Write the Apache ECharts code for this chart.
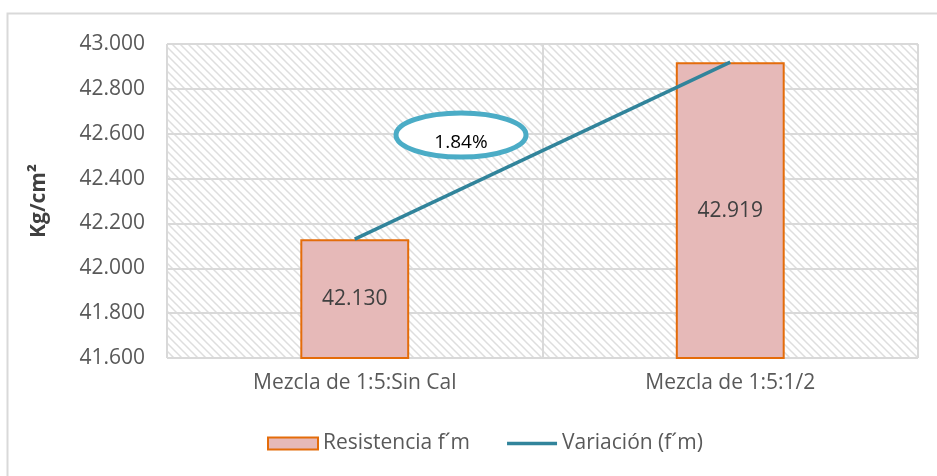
<!DOCTYPE html>
<html>
<head>
<meta charset="utf-8">
<script src="https://cdn.jsdelivr.net/npm/echarts@6/dist/echarts.min.js"></script>
<style>
html, body { margin: 0; padding: 0; background: #fff; }
#chart { width: 937px; height: 476px; }
</style>
</head>
<body>
<div id="chart"></div>
<script>
// datos del grafico
var categorias = ['Mezcla de 1:5:Sin Cal', 'Mezcla de 1:5:1/2'];
var resistencia = [42.130, 42.919];
var variacion = [42.130, 42.919];
var variacionTexto = '1.84%';
var ejeY = { min: 41.6, max: 43.0, interval: 0.2 };

// trama diagonal del fondo
function crearTrama() {
	var c = document.createElement('canvas');
	c.width = 8;
	c.height = 8;
	var ctx = c.getContext('2d');
	ctx.fillStyle = '#ffffff';
	ctx.fillRect(0, 0, 8, 8);
	ctx.strokeStyle = '#dedede';
	ctx.lineWidth = 1.5;
	ctx.beginPath();
	ctx.moveTo(-2, -2); ctx.lineTo(10, 10);
	ctx.moveTo(-2, 6); ctx.lineTo(2, 10);
	ctx.moveTo(6, -2); ctx.lineTo(10, 2);
	ctx.stroke();
	return c;
}

var fuente = 'Open Sans';
var myChart = echarts.init(document.getElementById('chart'));

var option = {
	animation: false,
	backgroundColor: '#ffffff',
	textStyle: { fontFamily: fuente },
	grid: {
		left: 167,
		right: 19,
		top: 44,
		bottom: 118,
		show: true,
		borderWidth: 0,
		backgroundColor: { image: crearTrama(), repeat: 'repeat' }
	},
	legend: {
		bottom: 17,
		left: 262,
		itemWidth: 50,
		itemHeight: 12,
		itemGap: 37,
		symbolKeepAspect: true,
		textStyle: { color: '#595959', fontSize: 21, fontFamily: fuente },
		data: [
			{ name: 'Resistencia f´m', icon: 'rect' },
			{ name: 'Variación (f´m)', icon: 'path://M0,0 H100 V7 H0 Z' }
		]
	},
	xAxis: {
		type: 'category',
		data: categorias,
		axisLine: { show: false },
		axisTick: { show: false },
		axisLabel: { color: '#595959', fontSize: 21, margin: 15, fontFamily: fuente },
		splitLine: { show: true, lineStyle: { color: '#d9d9d9', width: 2 } }
	},
	yAxis: {
		type: 'value',
		min: ejeY.min,
		max: ejeY.max,
		interval: ejeY.interval,
		name: 'Kg/cm²',
		nameLocation: 'middle',
		nameGap: 117,
		nameTextStyle: { color: '#404040', fontSize: 21, fontWeight: 'bold', fontFamily: fuente },
		axisLine: { show: false },
		axisTick: { show: false },
		axisLabel: {
			color: '#595959',
			fontSize: 21,
			margin: 22,
			fontFamily: fuente,
			formatter: function (v) { return v.toFixed(3); }
		},
		splitLine: { lineStyle: { color: '#d9d9d9', width: 2 } }
	},
	series: [
		{
			name: 'Resistencia f´m',
			type: 'bar',
			data: resistencia,
			barWidth: '29%',
			itemStyle: { color: '#E6B9B8', borderColor: '#E46C0A', borderWidth: 2 },
			label: {
				show: true,
				position: 'inside',
				color: '#404040',
				fontSize: 21,
				fontFamily: fuente,
				formatter: function (p) { return p.value.toFixed(3); }
			}
		},
		{
			name: 'Variación (f´m)',
			type: 'line',
			data: variacion,
			symbol: 'none',
			lineStyle: { color: '#31849B', width: 3.5 },
			itemStyle: { color: '#31849B' }
		}
	],
	graphic: [
		{
			type: 'rect',
			silent: true,
			shape: { x: 7.5, y: 13.5, width: 1000, height: 1000 },
			style: { fill: 'none', stroke: '#d9d9d9', lineWidth: 2 }
		},
		{
			type: 'ellipse',
			shape: { cx: 461, cy: 135, rx: 65, ry: 22 },
			style: { fill: '#ffffff', stroke: '#4BACC6', lineWidth: 5 },
			z: 100
		},
		{
			type: 'text',
			x: 461,
			y: 143,
			style: {
				text: variacionTexto,
				fill: '#000000',
				fontSize: 19,
				fontFamily: fuente,
				align: 'center',
				verticalAlign: 'middle'
			},
			z: 101
		}
	]
};

myChart.setOption(option);
</script>
</body>
</html>
